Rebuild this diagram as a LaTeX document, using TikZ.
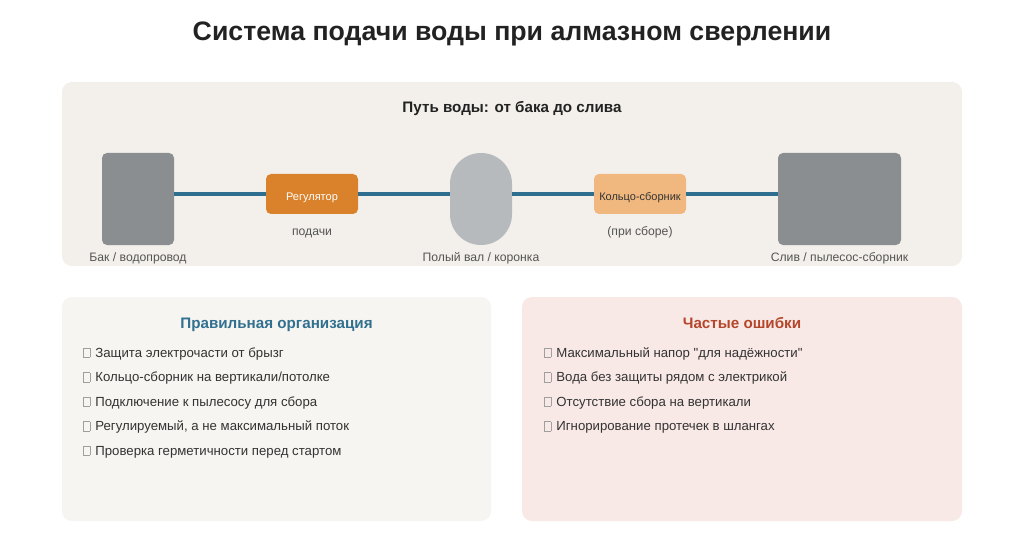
\documentclass[tikz,border=0pt]{standalone}
\usepackage{fontspec}
\setmainfont{Liberation Sans}
\newfontfamily\rawfont{Liberation Sans}
\definecolor{panelbg}{HTML}{F3F0EB}
\definecolor{goodbg}{HTML}{F7F5F1}
\definecolor{badbg}{HTML}{F8E9E6}
\definecolor{pipe}{HTML}{2E6E8E}
\definecolor{tank}{HTML}{8A8E91}
\definecolor{shaft}{HTML}{B6BABD}
\definecolor{reg}{HTML}{D9822B}
\definecolor{ring}{HTML}{F0B87E}
\definecolor{txt}{HTML}{222222}
\definecolor{sub}{HTML}{555555}
\definecolor{itemc}{HTML}{333333}
\definecolor{goodtitle}{HTML}{31708F}
\definecolor{badtitle}{HTML}{B4472B}
\newcommand\tofu{{\color{gray!75}\fboxrule=0.6pt\fboxsep=0pt\fbox{\rule{0pt}{8.5pt}\hspace{6pt}}}\hspace{5pt}}
\newcommand\sq{{\rawfont"}}
\begin{document}
\begin{tikzpicture}[x=1pt,y=-1pt,
  panel/.style={rounded corners=10pt,draw=none},
  device/.style={rectangle,draw=none,inner sep=0pt,rounded corners=5pt},
  devtext/.style={inner sep=0pt,anchor=base,font=\fontsize{11}{13}\selectfont},
  pipeline/.style={draw=pipe,line width=4pt},
  lbl/.style={inner sep=0pt,anchor=base,text=sub,font=\fontsize{12.2}{14}\selectfont},
  itemtxt/.style={inner sep=0pt,anchor=base west,text=itemc,font=\fontsize{13.2}{15}\selectfont},
  sectitle/.style={inner sep=0pt,anchor=base,font=\fontsize{15.2}{18}\selectfont\bfseries}]
\useasboundingbox[fill=white] (0,0) rectangle (1024,553);
\node[inner sep=0pt,anchor=base,text=txt,font=\fontsize{26.7}{30}\selectfont\bfseries] (title) at (512,41) {Система подачи воды при алмазном сверлении};
% top panel
\fill[panel,fill=panelbg] (62,82) rectangle (962,266);
\node[sectitle,text=txt] (ptitle) at (512,113) {Путь воды: от бака до слива};
\node[device,fill=tank,minimum width=72pt,minimum height=92pt] (tankn) at (138,199) {};
\node[device,fill=reg,minimum width=92pt,minimum height=40pt] (regn) at (312,194) {};
\node[devtext,text=white] (regt) at ([yshift=-6.3pt]regn.center) {Регулятор};
\node[device,fill=shaft,minimum width=62pt,minimum height=92pt,rounded corners=30.9pt] (shaftn) at (481,199) {};
\node[device,fill=ring,minimum width=92pt,minimum height=40pt] (ringn) at (640,194) {};
\node[devtext,text=itemc] (ringt) at ([yshift=-6.3pt]ringn.center) {Кольцо-сборник};
\node[device,fill=tank,minimum width=123pt,minimum height=92pt] (drainn) at (839.5,199) {};
\draw[pipeline] (tankn.east |- regn.west) -- (regn.west);
\draw[pipeline] (regn.east) -- (shaftn.west |- regn.east);
\draw[pipeline] (shaftn.east |- ringn.west) -- (ringn.west);
\draw[pipeline] (ringn.east) -- (drainn.west |- ringn.east);
\node[lbl] (l1) at (138,261) {Бак / водопровод};
\node[lbl] (l2) at (312,236) {подачи};
\node[lbl] (l3) at (481,261) {Полый вал / коронка};
\node[lbl] (l4) at (640,236) {(при сборе)};
\node[lbl] (l5) at (839.5,261) {Слив / пылесос-сборник};
% bottom panels
\fill[panel,fill=goodbg] (62,297) rectangle (491,521);
\fill[panel,fill=badbg] (522,297) rectangle (962,521);
\node[sectitle,text=goodtitle] (gt) at (276.5,328) {Правильная организация};
\node[sectitle,text=badtitle] (bt) at (742,328) {Частые ошибки};
\node[itemtxt] (g1) at (83,357) {\tofu Защита электрочасти от брызг};
\node[itemtxt] (g2) at (83,381.5) {\tofu Кольцо-сборник на вертикали/потолке};
\node[itemtxt] (g3) at (83,406) {\tofu Подключение к пылесосу для сбора};
\node[itemtxt] (g4) at (83,430.5) {\tofu Регулируемый, а не максимальный поток};
\node[itemtxt] (g5) at (83,455) {\tofu Проверка герметичности перед стартом};
\node[itemtxt] (b1) at (544,357) {\tofu Максимальный напор \sq для надёжности\sq};
\node[itemtxt] (b2) at (544,381.5) {\tofu Вода без защиты рядом с электрикой};
\node[itemtxt] (b3) at (544,406) {\tofu Отсутствие сбора на вертикали};
\node[itemtxt] (b4) at (544,430.5) {\tofu Игнорирование протечек в шлангах};
\end{tikzpicture}
\end{document}
